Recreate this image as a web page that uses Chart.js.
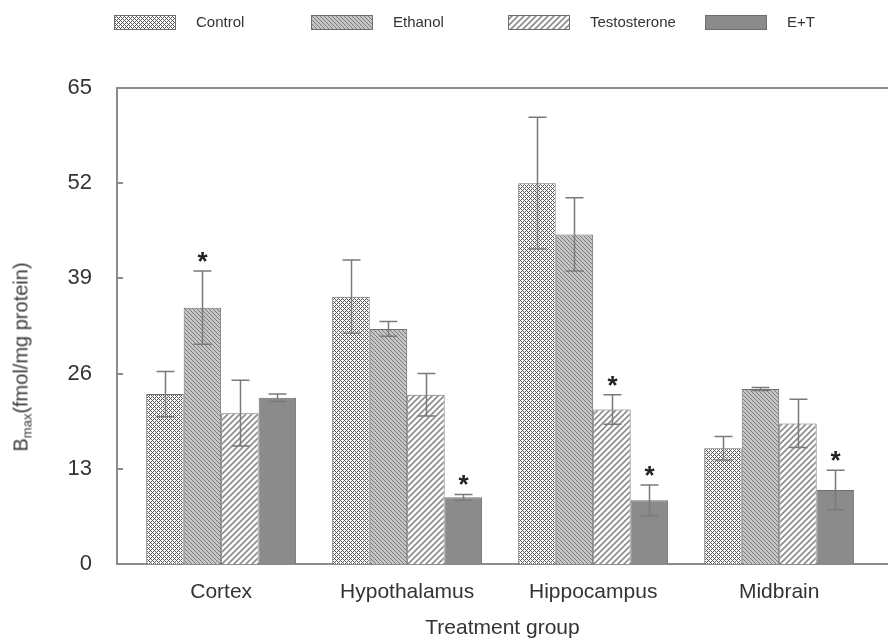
<!DOCTYPE html>
<html>
<head>
<meta charset="utf-8">
<script src="https://cdn.jsdelivr.net/npm/chart.js@4.4.8/dist/chart.umd.min.js"></script>
<style>
  html, body { margin: 0; padding: 0; background: #fff; }
  #wrap { position: relative; width: 888px; height: 639px; }
  #yTitle {
    position: absolute;
    left: 22px;
    top: 357px;
    transform: translate(-50%, -50%) rotate(-90deg);
    white-space: nowrap;
    font: 20px "Liberation Sans", Arial, sans-serif;
    color: #3a3a3a;
  }
  #yTitle sub { font-size: 13px; vertical-align: -4px; }
</style>
</head>
<body>
<div id="wrap">
  <canvas id="chart" width="888" height="639"></canvas>
  <div id="yTitle">B<sub>max</sub>(fmol/mg protein)</div>
</div>
<script>
const CATEGORIES = ["Cortex", "Hypothalamus", "Hippocampus", "Midbrain"];
const SERIES_NAMES = ["Control", "Ethanol", "Testosterone", "E+T"];

const CONTROL = [23.2, 36.5, 52.0, 15.8];
const CONTROL_ERR = [3.1, 5.0, 9.0, 1.6];
const CONTROL_SIG = [false, false, false, false];

const ETHANOL = [35.0, 32.1, 45.0, 23.9];
const ETHANOL_ERR = [5.0, 1.0, 5.0, 0.2];
const ETHANOL_SIG = [true, false, false, false];

const TESTO = [20.6, 23.1, 21.1, 19.2];
const TESTO_ERR = [4.5, 2.9, 2.0, 3.3];
const TESTO_SIG = [false, false, true, false];

const ET = [22.7, 9.1, 8.7, 10.1];
const ET_ERR = [0.5, 0.4, 2.1, 2.7];
const ET_SIG = [false, true, true, true];

const Y_TICKS = [0, 13, 26, 39, 52, 65];

const FONT = "'Liberation Sans', Arial, sans-serif";
const TEXT = "#333";
const AXIS = "#8c8c8c";
const BAR_EDGE = "#6e6e6e";

function makePattern(size, draw) {
  const c = document.createElement("canvas");
  c.width = size;
  c.height = size;
  const g = c.getContext("2d");
  draw(g, size);
  return g.createPattern(c, "repeat");
}

// diamond crosshatch, white holes
const controlFill = makePattern(4, (g, s) => {
  g.fillStyle = "#fff";
  g.fillRect(0, 0, s, s);
  g.fillStyle = "#575757";
  for (let i = 0; i < s; i++) {
    for (let j = 0; j < s; j++) {
      if ((i + j) % s === 0 || (i - j + s) % s === 0) g.fillRect(i, j, 1, 1);
    }
  }
});

// fine diagonal hatch
const ethanolFill = makePattern(4, (g, s) => {
  g.fillStyle = "#c6c6c6";
  g.fillRect(0, 0, s, s);
  g.fillStyle = "#7a7a7a";
  for (let i = 0; i < s; i++) g.fillRect(i, i, 1, 1);
});

// wide diagonal lines
const testoFill = makePattern(6, (g, s) => {
  g.fillStyle = "#fff";
  g.fillRect(0, 0, s, s);
  g.strokeStyle = "#8a8a8a";
  g.lineWidth = 1.6;
  g.beginPath();
  g.moveTo(0, s); g.lineTo(s, 0);
  g.moveTo(-1, 1); g.lineTo(1, -1);
  g.moveTo(s - 1, s + 1); g.lineTo(s + 1, s - 1);
  g.stroke();
});

const etFill = "#8b8b8b";

function series(label, values, errors, sig, fill) {
  return {
    label,
    data: values.map((v, i) => ({ x: i, y: v })),
    errors,
    sig,
    backgroundColor: fill,
    borderColor: BAR_EDGE,
    borderWidth: 1,
    categoryPercentage: 0.806,
    barPercentage: 1,
  };
}

const errorBarPlugin = {
  id: "errorBars",
  afterDatasetsDraw(chart) {
    const { ctx } = chart;
    const y = chart.scales.y;
    ctx.save();
    chart.data.datasets.forEach((ds, di) => {
      const meta = chart.getDatasetMeta(di);
      meta.data.forEach((bar, i) => {
        const v = ds.data[i].y;
        const e = ds.errors[i];
        const top = y.getPixelForValue(v + e);
        const bot = y.getPixelForValue(v - e);
        const x = Math.round(bar.x) + 0.5;
        ctx.strokeStyle = "#7a7a7a";
        ctx.lineWidth = 1.5;
        ctx.beginPath();
        ctx.moveTo(x, top);
        ctx.lineTo(x, bot);
        ctx.moveTo(x - 9, top);
        ctx.lineTo(x + 9, top);
        ctx.moveTo(x - 9, bot);
        ctx.lineTo(x + 9, bot);
        ctx.stroke();

        if (ds.sig[i]) {
          ctx.fillStyle = "#222";
          ctx.font = "bold 26px " + FONT;
          ctx.textAlign = "center";
          ctx.textBaseline = "alphabetic";
          ctx.fillText("*", x, top - 1);
        }
      });
    });
    ctx.restore();
  },
};

const framePlugin = {
  id: "frame",
  afterDraw(chart) {
    const { ctx, chartArea } = chart;
    const y = chart.scales.y;
    ctx.save();
    ctx.strokeStyle = AXIS;
    ctx.lineWidth = 2;
    ctx.beginPath();
    ctx.moveTo(chartArea.left - 1, chartArea.top);
    ctx.lineTo(chartArea.right, chartArea.top);
    Y_TICKS.forEach((t) => {
      const py = Math.round(y.getPixelForValue(t));
      ctx.moveTo(chartArea.left, py);
      ctx.lineTo(chartArea.left + 6, py);
    });
    ctx.stroke();

    // legend
    chart.data.datasets.forEach((ds, i) => {
      const x0 = 114 + i * 197;
      ctx.fillStyle = ds.backgroundColor;
      ctx.fillRect(x0, 15, 62, 15);
      ctx.strokeStyle = "#6e6e6e";
      ctx.lineWidth = 1;
      ctx.strokeRect(x0 + 0.5, 15.5, 61, 14);
      ctx.fillStyle = TEXT;
      ctx.font = "15px " + FONT;
      ctx.textAlign = "left";
      ctx.textBaseline = "middle";
      ctx.fillText(ds.label, x0 + 82, 23);
    });
    ctx.restore();
  },
};

const chart = new Chart(document.getElementById("chart"), {
  type: "bar",
  data: {
    datasets: [
      series(SERIES_NAMES[0], CONTROL, CONTROL_ERR, CONTROL_SIG, controlFill),
      series(SERIES_NAMES[1], ETHANOL, ETHANOL_ERR, ETHANOL_SIG, ethanolFill),
      series(SERIES_NAMES[2], TESTO, TESTO_ERR, TESTO_SIG, testoFill),
      series(SERIES_NAMES[3], ET, ET_ERR, ET_SIG, etFill),
    ],
  },
  options: {
    responsive: false,
    devicePixelRatio: 1,
    animation: false,
    layout: { padding: { top: 88, right: 0, bottom: 0, left: 0 } },
    plugins: {
      legend: { display: false },
      tooltip: { enabled: false },
    },
    scales: {
      x: {
        type: "linear",
        min: -0.56,
        max: 3.585,
        offset: false,
        grid: { display: false, drawTicks: false },
        border: { display: true, color: AXIS, width: 2 },
        afterBuildTicks(s) {
          s.ticks = CATEGORIES.map((_, i) => ({ value: i }));
        },
        afterFit(s) {
          s.height = 75;
        },
        ticks: {
          autoSkip: false,
          maxRotation: 0,
          padding: 16,
          color: TEXT,
          font: { size: 21, family: FONT },
          callback: (v) => CATEGORIES[v] ?? "",
        },
        title: {
          display: true,
          text: "Treatment group",
          color: TEXT,
          font: { size: 21, family: FONT },
          padding: { top: 0, bottom: -2 },
        },
      },
      y: {
        min: 0,
        max: 65,
        afterBuildTicks(s) {
          s.ticks = Y_TICKS.map((v) => ({ value: v }));
        },
        afterFit(s) {
          s.width = 117;
        },
        grid: { display: false, drawTicks: false },
        border: { display: true, color: AXIS, width: 2 },
        ticks: {
          padding: 25,
          color: TEXT,
          font: { size: 22, family: FONT },
        },
      },
    },
  },
  plugins: [errorBarPlugin, framePlugin],
});
</script>
</body>
</html>
